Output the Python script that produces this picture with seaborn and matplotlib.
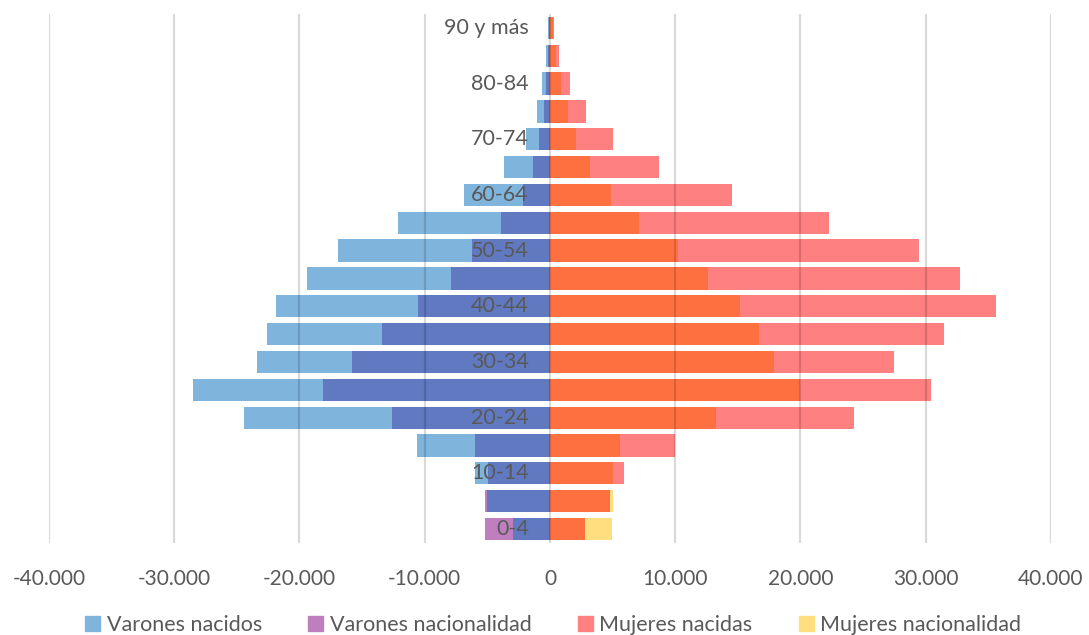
import numpy as np
import pandas as pd
import matplotlib.pyplot as plt
import matplotlib.transforms as mtransforms
from matplotlib.patches import Patch
import seaborn as sns

# Datos (de abajo hacia arriba)
grupos = ['0-4', '5-9', '10-14', '15-19', '20-24', '25-29', '30-34', '35-39',
          '40-44', '45-49', '50-54', '55-59', '60-64', '65-69', '70-74',
          '75-79', '80-84', '85-89', '90 y más']
varones_nacidos = [2920, 5020, 5950, 10650, 24400, 28500, 23400, 22600, 21900,
                   19400, 16900, 12140, 6880, 3640, 1910, 1040, 600, 300, 160]
varones_nacionalidad = [5180, 5210, 4940, 5950, 12600, 18100, 15800, 13400, 10500,
                        7940, 6220, 3900, 2130, 1330, 850, 500, 310, 170, 80]
mujeres_nacidas = [2790, 4810, 5950, 10010, 24300, 30460, 27490, 31470, 35620,
                   32750, 29430, 22260, 14550, 8690, 5000, 2870, 1600, 720, 300]
mujeres_nacionalidad = [4940, 5070, 5020, 5580, 13280, 20000, 17930, 16730, 15170,
                        12590, 10250, 7120, 4860, 3160, 2050, 1430, 900, 450, 250]
ticks_x = [-40000, -30000, -20000, -10000, 0, 10000, 20000, 30000, 40000]

# Colores
c_vn = '#7FB4DD'   # varones nacidos
c_vnac = '#BF7FBF'  # varones nacionalidad
c_vsolapa = '#6079C1'
c_mn = '#FF8080'   # mujeres nacidas
c_mnac = '#FFDE80'  # mujeres nacionalidad
c_msolapa = '#FF7040'
gris = '#595959'

df = pd.DataFrame({
    'grupo': grupos,
    'v_nacidos': -np.array(varones_nacidos),
    'v_nac': -np.array(varones_nacionalidad),
    'v_solapa': -np.minimum(varones_nacidos, varones_nacionalidad),
    'm_nacidas': mujeres_nacidas,
    'm_nac': mujeres_nacionalidad,
    'm_solapa': np.minimum(mujeres_nacidas, mujeres_nacionalidad),
})
orden = grupos[::-1]  # 90 y más arriba

sns.set_theme(style='white')
plt.rcParams['font.family'] = ['Lato', 'DejaVu Sans']

fig, ax = plt.subplots(figsize=(10.89, 6.35), dpi=100)
fig.subplots_adjust(left=0.045, right=0.965, top=0.978, bottom=0.145)

for col, color in [('v_nacidos', c_vn), ('v_nac', c_vnac), ('v_solapa', c_vsolapa),
                   ('m_nacidas', c_mn), ('m_nac', c_mnac), ('m_solapa', c_msolapa)]:
    sns.barplot(data=df, x=col, y='grupo', order=orden, color=color, orient='h',
                width=0.8, saturation=1, linewidth=0, ax=ax, zorder=2)

# Rejilla vertical por encima de las barras
for t in ticks_x:
    ax.axvline(t, color='black', alpha=0.15, linewidth=1.6, zorder=3)

ax.set_xlim(-40000, 40000)
ax.set_xticks(ticks_x)
ax.set_xticklabels([f"{t:,}".replace(',', '.') for t in ticks_x])
ax.tick_params(axis='x', colors=gris, labelsize=15, pad=19, length=0)
ax.set_yticks([])
ax.set_xlabel('')
ax.set_ylabel('')
sns.despine(ax=ax, left=True, bottom=True)

# Etiquetas de grupos dentro del gráfico (una sí, una no)
trans = mtransforms.blended_transform_factory(ax.transAxes, ax.transData)
for g in grupos[::2]:
    ax.text(0.479, orden.index(g), g, transform=trans, ha='right', va='center',
            fontsize=15.5, color=gris, zorder=4)

handles = [Patch(color=c_vn, label='Varones nacidos'),
           Patch(color=c_vnac, label='Varones nacionalidad'),
           Patch(color=c_mn, label='Mujeres nacidas'),
           Patch(color=c_mnac, label='Mujeres nacionalidad')]
leg = fig.legend(handles=handles, loc='lower center', bbox_to_anchor=(0.508, -0.03),
                 ncol=4, frameon=False, fontsize=15.5, handlelength=0.7, handleheight=0.7,
                 handletextpad=0.3, columnspacing=2.15)
for txt in leg.get_texts():
    txt.set_color(gris)

plt.savefig('out.png', dpi=100)
plt.close()
